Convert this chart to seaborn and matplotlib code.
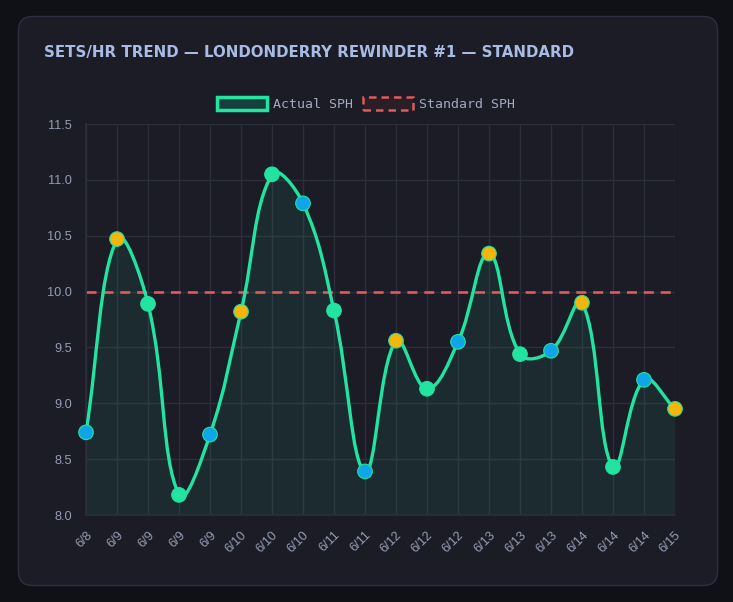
import numpy as np
import pandas as pd
import matplotlib
matplotlib.use("Agg")
import matplotlib.pyplot as plt
import seaborn as sns
from matplotlib.path import Path
from matplotlib.patches import PathPatch, FancyBboxPatch, Patch

# ---- data ----
dates = ["6/8", "6/9", "6/9", "6/9", "6/9", "6/10", "6/10", "6/10", "6/11", "6/11",
         "6/12", "6/12", "6/12", "6/13", "6/13", "6/13", "6/14", "6/14", "6/14", "6/15"]
actual_sph = [8.74, 10.47, 9.89, 8.18, 8.72, 9.82, 11.05, 10.79, 9.83, 8.39,
              9.56, 9.13, 9.55, 10.34, 9.44, 9.47, 9.90, 8.43, 9.21, 8.95]
shift = ["B", "Y", "G", "G", "B", "Y", "G", "B", "G", "B",
         "Y", "G", "B", "Y", "G", "B", "Y", "G", "B", "Y"]
standard_sph = 10.0
title = "SETS/HR TREND — LONDONDERRY REWINDER #1 — STANDARD"
y_ticks = [8.0, 8.5, 9.0, 9.5, 10.0, 10.5, 11.0, 11.5]

# ---- style ----
BG_OUT = "#101116"
CARD = "#1b1c26"
BORDER = "#2d3040"
GRID = "#2b2e3b"
TICK = "#959cb2"
GREEN = "#22e3a0"
BLUE = "#0ea5e9"
YELLOW = "#f5b50a"
RED = "#e05a5a"
palette = {"B": BLUE, "Y": YELLOW, "G": GREEN}

sns.set_theme(style="dark")
plt.rcParams["font.family"] = ["Liberation Sans", "DejaVu Sans"]

W, H = 733, 602
fig = plt.figure(figsize=(W / 100, H / 100), dpi=100, facecolor=BG_OUT)

# card
card = FancyBboxPatch((18.5, 602 - 585.5), 699, 569, boxstyle="round,pad=0,rounding_size=14",
                      transform=None, facecolor=CARD, edgecolor=BORDER, linewidth=1.0, zorder=-10)
fig.patches.append(card)

L, R, T, B = 86, 675, 124, 515
ax = fig.add_axes([L / W, 1 - B / H, (R - L) / W, (B - T) / H])
ax.set_zorder(1)
ax.set_facecolor(CARD)
ax.patch.set_alpha(0)

df = pd.DataFrame({"idx": np.arange(len(dates)), "sph": actual_sph, "shift": shift})

ax.set_xlim(0, len(dates) - 1)
ax.set_ylim(8.0, 11.5)

# Chart.js-like spline (tension 0.4) computed in pixel space
fig.canvas.draw()
pts = ax.transData.transform(np.column_stack([df["idx"], df["sph"]]))
n = len(pts)
t = 0.4
cp_prev = pts.copy()
cp_next = pts.copy()
for i in range(n):
    prev = pts[i - 1] if i > 0 else pts[i]
    nxt = pts[i + 1] if i < n - 1 else pts[i]
    d01 = np.hypot(*(pts[i] - prev))
    d12 = np.hypot(*(nxt - pts[i]))
    tot = d01 + d12
    s01 = d01 / tot if tot else 0
    s12 = d12 / tot if tot else 0
    cp_prev[i] = pts[i] - t * s01 * (nxt - prev)
    cp_next[i] = pts[i] + t * s12 * (nxt - prev)
inv = ax.transData.inverted()
P = inv.transform(pts)
CPp = inv.transform(cp_prev)
CPn = inv.transform(cp_next)
verts = [tuple(P[0])]
codes = [Path.MOVETO]
for i in range(n - 1):
    verts += [tuple(CPn[i]), tuple(CPp[i + 1]), tuple(P[i + 1])]
    codes += [Path.CURVE4] * 3
line_path = Path(verts, codes)
fill_path = Path(verts + [(P[-1][0], 8.0), (P[0][0], 8.0), (P[0][0], P[0][1])],
                 codes + [Path.LINETO, Path.LINETO, Path.CLOSEPOLY])
ax.add_patch(PathPatch(fill_path, facecolor=GREEN, alpha=0.08, edgecolor="none", zorder=1))
ax.add_patch(PathPatch(line_path, facecolor="none", edgecolor=GREEN, linewidth=2.4,
                       capstyle="round", joinstyle="round", zorder=3))

# standard line
std_df = pd.DataFrame({"idx": [0, len(dates) - 1], "v": [standard_sph, standard_sph]})
sns.lineplot(data=std_df, x="idx", y="v", ax=ax, color=RED, linewidth=1.9,
             zorder=2, legend=False)
ax.lines[-1].set_linestyle((0, (3.8, 2.6)))

# points
sns.scatterplot(data=df, x="idx", y="sph", hue="shift", palette=palette, ax=ax,
                s=110, edgecolor=GREEN, linewidth=0.8, zorder=4, legend=False)
for c in ax.collections:
    c.set_clip_on(False)

# grid & ticks
ax.set_xticks(df["idx"])
ax.set_xticklabels(dates, rotation=45, ha="right", rotation_mode="anchor")
ax.set_yticks(y_ticks)
ax.set_yticklabels([f"{v:.1f}" for v in y_ticks])
ax.grid(True, color=GRID, linewidth=1.0)
ax.set_axisbelow(True)
ax.tick_params(axis="both", colors=TICK, labelsize=9.2, length=7, width=1.0, pad=3)
ax.tick_params(axis="both", color=GRID)
ax.tick_params(axis="x", pad=3)
for s in ax.spines.values():
    s.set_visible(False)
ax.spines["left"].set_visible(True)
ax.spines["left"].set_color(GRID)
ax.spines["bottom"].set_visible(True)
ax.spines["bottom"].set_color(GRID)
ax.set_xlabel("")
ax.set_ylabel("")

# legend
handles = [Patch(facecolor="#13403a", edgecolor=GREEN, linewidth=2.5, label="Actual SPH"),
           Patch(facecolor="#2a1f26", edgecolor=RED, linewidth=1.8, linestyle=(0, (3, 2)),
                 label="Standard SPH")]
leg = fig.legend(handles=handles, loc="center", bbox_to_anchor=(366 / W, 1 - 104 / H), ncol=2,
                 frameon=False, handlelength=3.8, handleheight=1.15, handletextpad=0.45,
                 columnspacing=0.8, prop={"family": "DejaVu Sans Mono", "size": 9.5})
for txt in leg.get_texts():
    txt.set_color("#a3a9bf")

# title
fig.text(44 / W, 1 - 52 / H, title, ha="left", va="center", color="#a8bbe3",
         fontsize=10.8, fontweight="bold", family=["DejaVu Sans"])

fig.savefig("out.png", dpi=100, facecolor=BG_OUT)
